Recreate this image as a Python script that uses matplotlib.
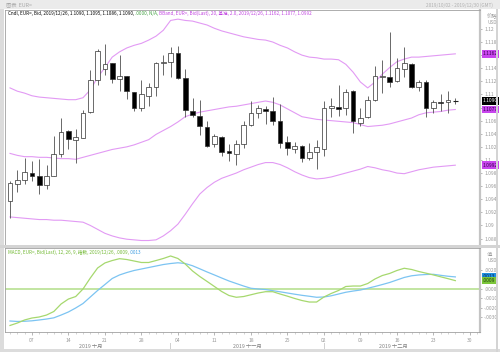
import matplotlib
matplotlib.use("Agg")
import matplotlib.pyplot as plt
import matplotlib.transforms as mtransforms
from matplotlib.patches import Rectangle
from matplotlib.ticker import FixedLocator, FuncFormatter
import numpy as np
import pandas as pd

plt.rcParams['font.family'] = ['Noto Sans CJK SC', 'DejaVu Sans']

# daily EUR= bid candles, 2019/10/02 .. 2019/12/26
dates = pd.bdate_range("2019-10-02", "2019-12-26")
axis_days = pd.bdate_range("2019-10-02", "2019-12-31")

opens = [1.0938, 1.0964, 1.0969, 1.0980, 1.0976, 1.0962, 1.0976, 1.1009, 1.1044, 1.1030,
         1.1034, 1.1073, 1.1122, 1.1139, 1.1148, 1.1123, 1.1128, 1.1104, 1.1080, 1.1098,
         1.1111, 1.1148, 1.1149, 1.1164, 1.1125, 1.1075, 1.1067, 1.1051, 1.1024, 1.1035,
         1.1013, 1.1009, 1.1024, 1.1054, 1.1072, 1.1078, 1.1074, 1.1060, 1.1027, 1.1017,
         1.1022, 1.1003, 1.1012, 1.1017, 1.1079, 1.1081, 1.1079, 1.1105, 1.1057, 1.1065,
         1.1091, 1.1127, 1.1127, 1.1121, 1.1139, 1.1147, 1.1111, 1.1119, 1.1080, 1.1089,
         1.1088, 1.1090]
highs = [1.0968, 1.0985, 1.1003, 1.0998, 1.1001, 1.0993, 1.1037, 1.1064, 1.1045, 1.1047,
         1.1076, 1.1138, 1.1169, 1.1177, 1.1148, 1.1160, 1.1128, 1.1104, 1.1122, 1.1117,
         1.1149, 1.1160, 1.1173, 1.1174, 1.1139, 1.1094, 1.1092, 1.1059, 1.1039, 1.1037,
         1.1024, 1.1031, 1.1060, 1.1090, 1.1084, 1.1083, 1.1096, 1.1086, 1.1036, 1.1028,
         1.1023, 1.1026, 1.1031, 1.1090, 1.1094, 1.1115, 1.1108, 1.1107, 1.1079, 1.1097,
         1.1144, 1.1153, 1.1195, 1.1155, 1.1173, 1.1148, 1.1122, 1.1122, 1.1091, 1.1101,
         1.1106, 1.1095]
lows = [1.0912, 1.0951, 1.0963, 1.0968, 1.0948, 1.0956, 1.0975, 1.1004, 1.1016, 1.0996,
        1.1033, 1.1071, 1.1115, 1.1129, 1.1117, 1.1105, 1.1093, 1.1074, 1.1075, 1.1082,
        1.1097, 1.1129, 1.1127, 1.1123, 1.1065, 1.1065, 1.1038, 1.1020, 1.1020, 1.1006,
        1.0998, 1.0993, 1.1018, 1.1052, 1.1064, 1.1055, 1.1054, 1.1018, 1.1007, 1.1011,
        1.0997, 1.1000, 1.0986, 1.1006, 1.1065, 1.1067, 1.1069, 1.1041, 1.1052, 1.1064,
        1.1090, 1.1102, 1.1111, 1.1119, 1.1127, 1.1110, 1.1105, 1.1066, 1.1071, 1.1074,
        1.1072, 1.1086]
closes = [1.0965, 1.0970, 1.0981, 1.0976, 1.0962, 1.0976, 1.1009, 1.1043, 1.1032, 1.1035,
          1.1071, 1.1122, 1.1167, 1.1147, 1.1123, 1.1128, 1.1106, 1.1080, 1.1100, 1.1111,
          1.1148, 1.1149, 1.1164, 1.1125, 1.1076, 1.1068, 1.1052, 1.1021, 1.1036, 1.1012,
          1.1011, 1.1025, 1.1053, 1.1071, 1.1079, 1.1074, 1.1059, 1.1026, 1.1018, 1.1022,
          1.1003, 1.1012, 1.1020, 1.1079, 1.1082, 1.1078, 1.1103, 1.1060, 1.1064, 1.1092,
          1.1128, 1.1128, 1.1119, 1.1140, 1.1148, 1.1111, 1.1119, 1.1079, 1.1088, 1.1087,
          1.1091, 1.1090]

# Bollinger band (20, 2.0)
bb_upper = [1.1110, 1.1105, 1.1102, 1.1098, 1.1096, 1.1095, 1.1094, 1.1093, 1.1092, 1.1092,
            1.1095, 1.1107, 1.1126, 1.1141, 1.1157, 1.1165, 1.1171, 1.1175, 1.1178, 1.1183,
            1.1189, 1.1198, 1.1213, 1.1215, 1.1213, 1.1212, 1.1209, 1.1206, 1.1201, 1.1197,
            1.1194, 1.1191, 1.1188, 1.1186, 1.1184, 1.1183, 1.1180, 1.1175, 1.1171, 1.1165,
            1.1160, 1.1157, 1.1156, 1.1154, 1.1154, 1.1153, 1.1146, 1.1134, 1.1119, 1.1110,
            1.1119, 1.1131, 1.1141, 1.1150, 1.1154, 1.1157, 1.1157, 1.1158, 1.1159, 1.1160,
            1.1161, 1.1162]
bb_mid = [1.1010, 1.1007, 1.1005, 1.1005, 1.1004, 1.1004, 1.1003, 1.1002, 1.1002, 1.1001,
          1.1004, 1.1007, 1.1010, 1.1013, 1.1016, 1.1018, 1.1020, 1.1023, 1.1027, 1.1031,
          1.1039, 1.1045, 1.1051, 1.1058, 1.1066, 1.1070, 1.1073, 1.1075, 1.1077, 1.1079,
          1.1081, 1.1082, 1.1084, 1.1086, 1.1088, 1.1090, 1.1088, 1.1084, 1.1078, 1.1072,
          1.1066, 1.1064, 1.1062, 1.1061, 1.1060, 1.1059, 1.1058, 1.1057, 1.1054, 1.1051,
          1.1052, 1.1053, 1.1055, 1.1058, 1.1061, 1.1064, 1.1069, 1.1072, 1.1073, 1.1074,
          1.1076, 1.1077]
bb_lower = [1.0913, 1.0912, 1.0911, 1.0910, 1.0909, 1.0909, 1.0908, 1.0908, 1.0907, 1.0906,
            1.0905, 1.0900, 1.0894, 1.0888, 1.0884, 1.0881, 1.0879, 1.0878, 1.0877, 1.0877,
            1.0878, 1.0884, 1.0892, 1.0902, 1.0917, 1.0933, 1.0948, 1.0958, 1.0966, 1.0972,
            1.0976, 1.0980, 1.0985, 1.0989, 1.0993, 1.0996, 1.0996, 1.0993, 1.0988, 1.0982,
            1.0977, 1.0973, 1.0971, 1.0972, 1.0974, 1.0977, 1.0980, 1.0983, 1.0986, 1.0990,
            1.0988, 1.0985, 1.0983, 1.0980, 1.0979, 1.0982, 1.0985, 1.0987, 1.0989, 1.0990,
            1.0991, 1.0992]

# MACD (12, 26, 9)
macd_line = [-0.00392, -0.00366, -0.00333, -0.00312, -0.00301, -0.00280, -0.00242, -0.00161,
             -0.00108, -0.00081, 0.00000, 0.00118, 0.00226, 0.00280, 0.00306, 0.00326,
             0.00317, 0.00301, 0.00285, 0.00285, 0.00306, 0.00328, 0.00355, 0.00328,
             0.00269, 0.00194, 0.00134, 0.00081, 0.00027, -0.00027, -0.00070, -0.00089,
             -0.00081, -0.00062, -0.00043, -0.00029, -0.00029, -0.00054, -0.00077, -0.00102,
             -0.00124, -0.00140, -0.00140, -0.00086, -0.00048, -0.00016, 0.00027, 0.00032,
             0.00032, 0.00059, 0.00108, 0.00145, 0.00167, 0.00199, 0.00223, 0.00210,
             0.00188, 0.00170, 0.00151, 0.00131, 0.00111, 0.00090]
macd_signal = [-0.00344, -0.00349, -0.00347, -0.00342, -0.00333, -0.00323, -0.00310, -0.00280,
               -0.00247, -0.00204, -0.00156, -0.00086, -0.00016, 0.00048, 0.00113, 0.00151,
               0.00177, 0.00199, 0.00215, 0.00231, 0.00247, 0.00263, 0.00274, 0.00282,
               0.00274, 0.00250, 0.00217, 0.00183, 0.00151, 0.00118, 0.00086, 0.00059,
               0.00032, 0.00008, 0.00000, -0.00006, -0.00018, -0.00030, -0.00043, -0.00056,
               -0.00068, -0.00078, -0.00089, -0.00086, -0.00073, -0.00054, -0.00035, -0.00022,
               -0.00011, 0.00008, 0.00027, 0.00048, 0.00070, 0.00097, 0.00124, 0.00142,
               0.00151, 0.00156, 0.00158, 0.00147, 0.00137, 0.00130]

month_labels = ["2019 十月", "2019 十一月", "2019 十二月"]

BAND = "#e29af4"
GREEN = "#a6d86e"
BLUE = "#7cc4f2"
GREY_TXT = "#9a9a9a"

x = np.arange(len(dates))

fig = plt.figure(figsize=(5.0, 3.52), dpi=100)
W, H = 500.0, 352.0

# frame strips
fig.patches.append(Rectangle((0, 1 - 9 / H), 1, 9 / H, transform=fig.transFigure,
                             fc="#ebebeb", ec="none", zorder=0))
fig.patches.append(Rectangle((0, 0), 4 / W, 1 - 9 / H, transform=fig.transFigure,
                             fc="#dcdcdc", ec="none", zorder=0))
fig.patches.append(Rectangle((0, 1 - 248 / H), 1, 3 / H, transform=fig.transFigure,
                             fc="#d4d4d4", ec="none", zorder=0))
fig.patches.append(Rectangle((0, 0), 1, 3 / H, transform=fig.transFigure,
                             fc="#dcdcdc", ec="none", zorder=0))
fig.patches.append(Rectangle((496 / W, 0), 2 / W, 1 - 9 / H, transform=fig.transFigure,
                             fc="#d4d4d4", ec="none", zorder=0))

ax = fig.add_axes([5 / W, 1 - 245 / H, 475 / W, 235 / H])
ax2 = fig.add_axes([5 / W, 1 - 332 / H, 475 / W, 84 / H])

xlim = (-0.685, 64.38)

# --- candles
for i in x:
    o, h, l, c = opens[i], highs[i], lows[i], closes[i]
    ax.vlines(i, l, h, color="#505050", lw=0.6, zorder=3)
    up = c >= o
    bottom = min(o, c)
    height = abs(c - o)
    if height < 0.00006:
        ax.hlines(bottom, i - 0.32, i + 0.32, color="#202020", lw=0.8, zorder=4)
    else:
        ax.add_patch(Rectangle((i - 0.32, bottom), 0.64, height,
                               fc="white" if up else "black", ec="#303030",
                               lw=0.5, zorder=4))

ax.plot(x, bb_upper, color=BAND, lw=0.8, zorder=2)
ax.plot(x, bb_mid, color=BAND, lw=0.8, zorder=2)
ax.plot(x, bb_lower, color=BAND, lw=0.8, zorder=2)

ax.set_xlim(*xlim)
ax.set_ylim(1.087015, 1.122893)
ax.yaxis.tick_right()
ax.yaxis.set_major_locator(FixedLocator(np.round(np.arange(1.088, 1.1201, 0.002), 3)))
# the 1.116 label sits under the upper-band value box in the original
ax.yaxis.set_major_formatter(FuncFormatter(
    lambda v, p: "" if abs(v - 1.116) < 1e-9 else f"{v:.3f}".rstrip("0")))
ax.tick_params(axis="y", labelsize=3.6, colors=GREY_TXT, length=1.5, width=0.5, pad=1.5)
ax.set_xticks([])
for s in ["top", "left", "bottom"]:
    ax.spines[s].set_color("#a0a0a0")
    ax.spines[s].set_linewidth(0.6)
ax.spines["right"].set_color("#c4c4c4")
ax.spines["right"].set_linewidth(1.6)

# --- MACD
ax2.axhline(0, color="#bde39a", lw=1.3, zorder=1)
ax2.plot(x, macd_signal, color=BLUE, lw=0.9, zorder=2)
ax2.plot(x, macd_line, color=GREEN, lw=0.9, zorder=3)
ax2.set_xlim(*xlim)
ax2.set_ylim(-0.004623, 0.004408)
ax2.yaxis.tick_right()
ax2.yaxis.set_major_locator(FixedLocator([-0.003, -0.002, -0.001, 0.0, 0.002]))
ax2.yaxis.set_major_formatter(FuncFormatter(
    lambda v, p: "" if abs(v - 0.001) < 1e-9 else f"{v:.4f}".replace("0.", ".")))
ax2.tick_params(axis="y", labelsize=3.6, colors=GREY_TXT, length=1.5, width=0.5, pad=1.5)

mondays = [k for k, d in enumerate(axis_days) if d.weekday() == 0]
ax2.set_xticks(mondays)
ax2.set_xticklabels([axis_days[k].strftime("%d") for k in mondays])
ax2.set_xticks(np.arange(len(axis_days)), minor=True)
ax2.tick_params(axis="x", which="major", labelsize=3.6, colors=GREY_TXT,
                length=2, width=0.5, pad=2)
ax2.tick_params(axis="x", which="minor", colors="#b0b0b0", length=1.2, width=0.4)
for s in ["top", "left", "bottom"]:
    ax2.spines[s].set_color("#a0a0a0")
    ax2.spines[s].set_linewidth(0.6)
ax2.spines["right"].set_color("#c4c4c4")
ax2.spines["right"].set_linewidth(1.6)

# month labels and separators
month_first = [k for k in range(1, len(dates)) if dates[k].month != dates[k - 1].month]
bounds = [0] + month_first + [len(dates)]
tr = mtransforms.blended_transform_factory(ax2.transData, fig.transFigure)
for m, lab in enumerate(month_labels):
    mid = (bounds[m] + bounds[m + 1] - 1) / 2 + 0.5
    fig.text(mid, 1 - 346 / H, lab, transform=tr, ha="center", va="center",
             fontsize=3.8, color="#808080")
for k in month_first:
    fig.text(k, 1 - 346 / H, "|", transform=tr, ha="center", va="center",
             fontsize=3.8, color="#808080")

# --- value boxes on the right axis
def value_box(axis, val, text, fc, tc):
    t = mtransforms.blended_transform_factory(axis.transAxes, axis.transData)
    axis.text(1.006, val, text, transform=t, ha="left", va="center", fontsize=3.5,
              color=tc, clip_on=False, zorder=10,
              bbox=dict(boxstyle="square,pad=0.25", fc=fc, ec="none"))

value_box(ax, bb_upper[-1], f"{bb_upper[-1]:.4f}", "#c846ee", "#3a0050")
value_box(ax, closes[-1], f"{closes[-1]:.4f}", "black", "white")
value_box(ax, bb_mid[-1], f"{bb_mid[-1]:.4f}", "#c846ee", "#3a0050")
value_box(ax, bb_lower[-1], f"{bb_lower[-1]:.4f}", "#c846ee", "#3a0050")
value_box(ax2, macd_signal[-1], f"{macd_signal[-1]:.4f}".replace("0.", "."), "#1e8ee0", "#0a2a50")
value_box(ax2, macd_line[-1], f"{macd_line[-1]:.4f}".replace("0.", "."), "#7cc63a", "#1f4010")

fig.text(487 / W, 1 - 16.5 / H, "价格", fontsize=3.8, color=GREY_TXT, ha="left", va="center")
fig.text(487 / W, 1 - 23 / H, "USD", fontsize=3.4, color=GREY_TXT, ha="left", va="center")
fig.text(487 / W, 1 - 255 / H, "值", fontsize=3.8, color=GREY_TXT, ha="left", va="center")
fig.text(487 / W, 1 - 261 / H, "USD", fontsize=3.4, color=GREY_TXT, ha="left", va="center")

# --- header texts
fig.text(6 / W, 1 - 4.5 / H, "图表  EUR=", fontsize=3.8, color="#a8a8a8", va="center")
fig.text(493 / W, 1 - 5 / H, "2019/10/02 - 2019/12/30 (GMT)", fontsize=3.4,
         color="#b0b0b0", ha="right", va="center")

def legend_line(axis, y, parts):
    prev = None
    for txt, col in parts:
        if prev is None:
            prev = axis.text(0.006, y, txt, transform=axis.transAxes, fontsize=3.3,
                             color=col, ha="left", va="top", zorder=10)
        else:
            prev = axis.annotate(txt, xy=(1, 0), xycoords=prev, fontsize=3.3,
                                 color=col, ha="left", va="bottom", zorder=10)

d = dates[-1].strftime("%Y/%m/%d")
legend_line(ax, 0.995, [
    (f"Cndl, EUR=, Bid, {d}, {opens[-1]:.4f}, {highs[-1]:.4f}, {lows[-1]:.4f}, {closes[-1]:.4f}, ", "black"),
    (".0000, N/A, ", "#40a040"),
    (f"BBand, EUR=, Bid(Last), 20, 基准, 2.0, {d}, {bb_upper[-1]:.4f}, {bb_mid[-1]:.4f}, {bb_lower[-1]:.4f}", "#c040e0"),
])
legend_line(ax2, 0.985, [
    (f"MACD, EUR=, Bid(Last), 12, 26, 9, 指数, {d}, {macd_line[-1]:.4f}, ".replace("0.", "."), "#70b830"),
    (f"{macd_signal[-1]:.4f}".replace("0.", "."), "#3a9ae0"),
])

fig.savefig("out.png", dpi=100)
